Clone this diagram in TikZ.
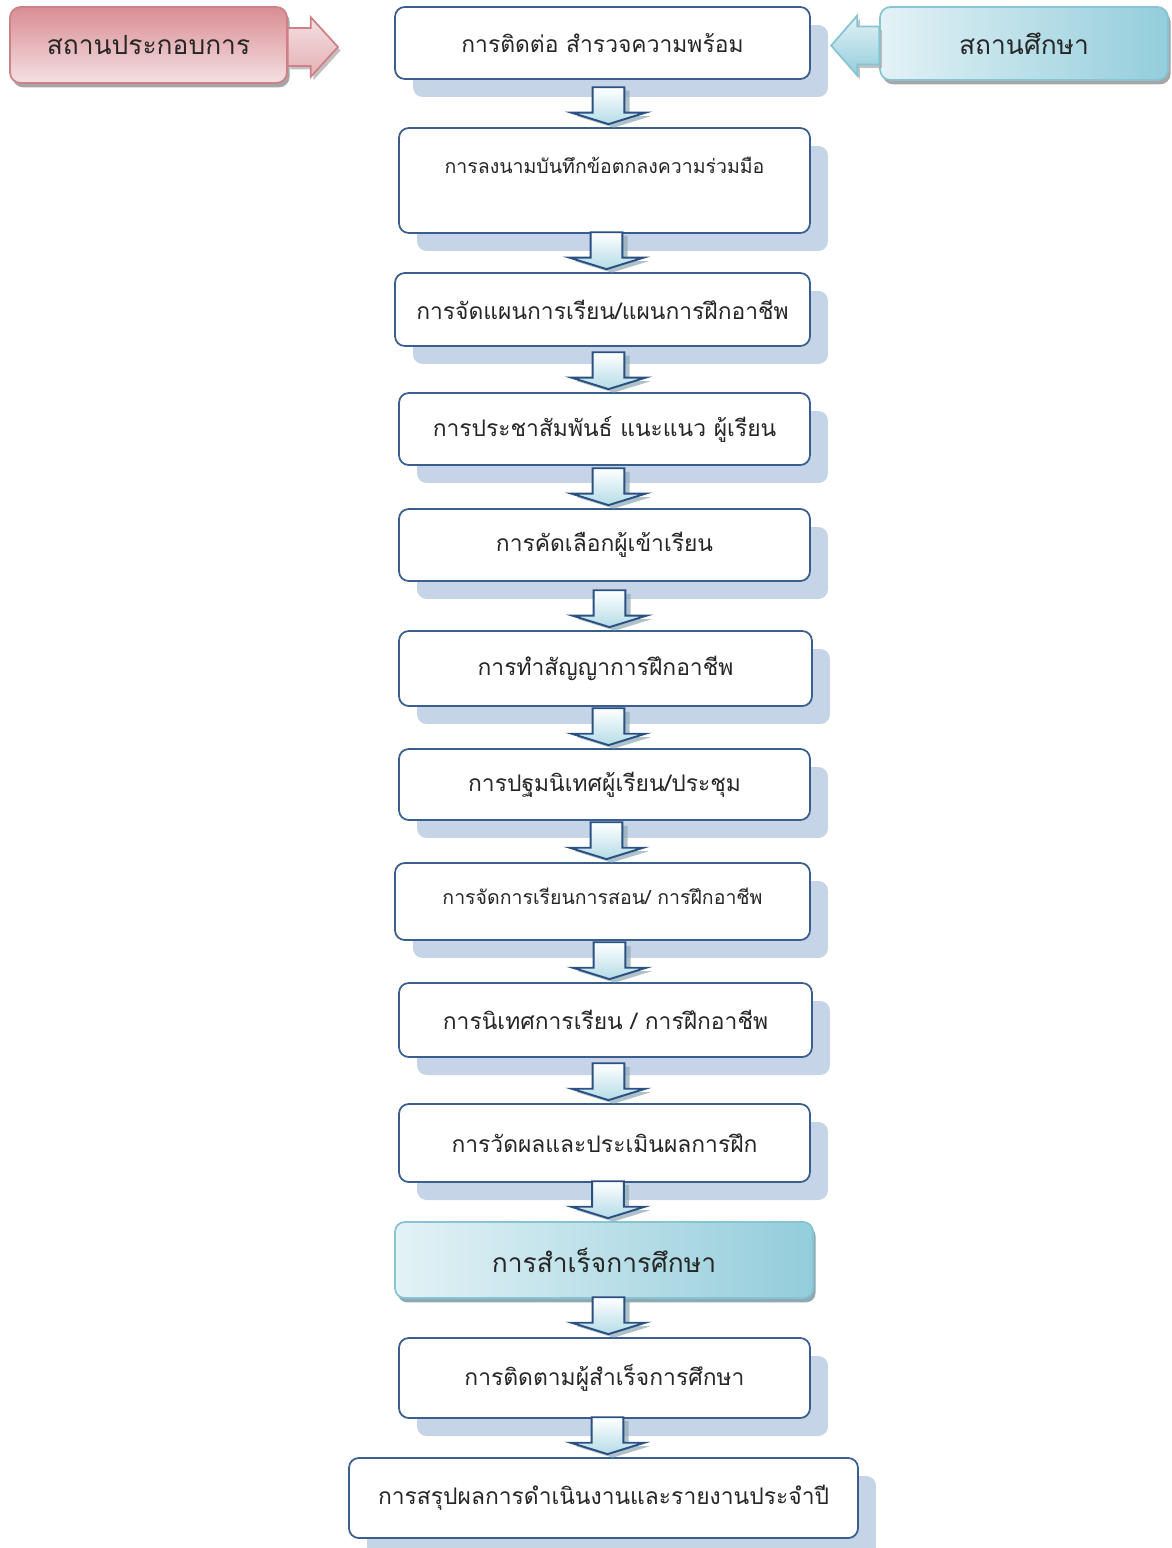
\documentclass[tikz,border=0pt]{standalone}
\usepackage{fontspec}
\newfontfamily\thaifont[Script=Thai]{Loma}
\usepackage{tikz}
\usetikzlibrary{positioning,calc,shadows}
\definecolor{DVEline}{HTML}{3A5F8F}
\definecolor{DVEshade}{HTML}{C6D4E7}
\definecolor{DVEnavy}{HTML}{2B5083}
\definecolor{DVEice}{HTML}{B5DCE7}
\definecolor{DVEteal}{HTML}{8FA8B2}
\definecolor{DVErose}{HTML}{D98D94}
\definecolor{DVEblush}{HTML}{F4E0E2}
\definecolor{DVEroseline}{HTML}{CE8087}
\definecolor{DVEcyan}{HTML}{93CDDB}
\definecolor{DVEmist}{HTML}{E3F2F6}
\definecolor{DVEcyanline}{HTML}{86C4D3}
\tikzset{
  boxbase/.style={rounded corners=5.5pt, line width=1pt, align=center, inner sep=2pt, text=black!85},
  flowbox/.style={boxbase, draw=DVEline, fill=white, font=\thaifont\fontsize{13}{16}\selectfont, drop shadow={shadow xshift=0.36cm, shadow yshift=-0.36cm, fill=DVEshade, opacity=1}},
  smallflow/.style={flowbox, font=\thaifont\fontsize{11.1}{13}\selectfont},
  goalbox/.style={boxbase, draw=DVEcyanline, left color=DVEmist, right color=DVEcyan, font=\thaifont\fontsize{15}{18}\selectfont, drop shadow={shadow xshift=1.5pt, shadow yshift=-2.5pt, fill=DVEteal, opacity=1}},
  partybox/.style={boxbase, rounded corners=6pt, font=\thaifont\fontsize{15}{18}\selectfont, drop shadow={shadow xshift=1.5pt, shadow yshift=-2.5pt, fill=black!35, opacity=1}},
  downarrow/.style={draw=DVEnavy, line width=1.1pt, line join=miter, top color=white, bottom color=DVEice, drop shadow={shadow xshift=3pt, shadow yshift=-2pt, fill=DVEteal, opacity=0.7}},
  sidearrow/.style={line width=1pt, line join=miter, drop shadow={shadow xshift=1.5pt, shadow yshift=-2pt, fill=black!30, opacity=0.8}}
}
\newcommand{\flowstep}[2]{\draw[downarrow] let \p2=($(#2.north)+(4,-3)$) in (\x2-9pt,\y2+21pt) -- (\x2+9pt,\y2+21pt) -- (\x2+9pt,\y2+6.5pt) -- (\x2+21pt,\y2+6.5pt) -- (\x2,\y2) -- (\x2-21pt,\y2+6.5pt) -- (\x2-9pt,\y2+6.5pt) -- cycle;}
\begin{document}
\begin{tikzpicture}[x=0.02cm, y=-0.02cm]
  \useasboundingbox (0,0) rectangle (1171,1548);
  \node[flowbox, minimum width=8.3cm, minimum height=1.44cm] (survey) at (602.5,43) {การติดต่อ สำรวจความพร้อม};
  \node[smallflow, minimum width=8.22cm, minimum height=2.1cm, text depth=0.6cm] (mou) at (604.5,180.5) {การลงนามบันทึกข้อตกลงความร่วมมือ};
  \node[flowbox, minimum width=8.3cm, minimum height=1.46cm] (plan) at (602.5,309.5) {การจัดแผนการเรียน/แผนการฝึกอาชีพ};
  \node[flowbox, minimum width=8.22cm, minimum height=1.44cm] (promo) at (604.5,429) {การประชาสัมพันธ์ แนะแนว ผู้เรียน};
  \node[flowbox, minimum width=8.22cm, minimum height=1.44cm] (select) at (604.5,545) {การคัดเลือกผู้เข้าเรียน};
  \node[flowbox, minimum width=8.26cm, minimum height=1.5cm] (contract) at (605.5,668.5) {การทำสัญญาการฝึกอาชีพ};
  \node[flowbox, minimum width=8.22cm, minimum height=1.42cm] (orient) at (604.5,784.5) {การปฐมนิเทศผู้เรียน/ประชุม};
  \node[smallflow, minimum width=8.3cm, minimum height=1.54cm, text depth=0.2cm] (teach) at (602.5,901.5) {การจัดการเรียนการสอน/ การฝึกอาชีพ};
  \node[flowbox, minimum width=8.26cm, minimum height=1.48cm] (supervise) at (605.5,1020) {การนิเทศการเรียน / การฝึกอาชีพ};
  \node[flowbox, minimum width=8.22cm, minimum height=1.56cm] (assess) at (604.5,1143) {การวัดผลและประเมินผลการฝึก};
  \node[goalbox, minimum width=8.36cm, minimum height=1.52cm] (graduate) at (604,1260) {การสำเร็จการศึกษา};
  \node[flowbox, minimum width=8.22cm, minimum height=1.6cm] (follow) at (604.5,1378) {การติดตามผู้สำเร็จการศึกษา};
  \node[flowbox, minimum width=10.18cm, minimum height=1.6cm] (report) at (603.5,1498) {การสรุปผลการดำเนินงานและรายงานประจำปี};
  \foreach \a/\b in {survey/mou, mou/plan, plan/promo, promo/select, select/contract, contract/orient, orient/teach, teach/supervise, supervise/assess, assess/graduate, graduate/follow, follow/report}
    \flowstep{\a}{\b};
  \node[partybox, draw=DVEroseline, top color=DVErose, bottom color=DVEblush, minimum width=5.54cm, minimum height=1.52cm] (firm) at (148.5,45) {สถานประกอบการ};
  \node[partybox, draw=DVEcyanline, left color=DVEmist, right color=DVEcyan, minimum width=5.76cm, minimum height=1.46cm] (school) at (1024,43.5) {สถานศึกษา};
  \draw[sidearrow, draw=DVEroseline, top color=DVEblush, bottom color=DVErose!70] let \p1=($(firm.east)+(0,2)$) in (\x1,\y1+10.8pt) -- (\x1+13pt,\y1+10.8pt) -- (\x1+13pt,\y1+17pt) -- (\x1+28.5pt,\y1) -- (\x1+13pt,\y1-17pt) -- (\x1+13pt,\y1-10.8pt) -- (\x1,\y1-10.8pt) -- cycle;
  \draw[sidearrow, draw=DVEcyanline, top color=DVEmist, bottom color=DVEcyan] let \p1=($(school.west)+(0,2)$) in (\x1,\y1+10.8pt) -- (\x1-12.5pt,\y1+10.8pt) -- (\x1-12.5pt,\y1+17pt) -- (\x1-27.3pt,\y1) -- (\x1-12.5pt,\y1-17pt) -- (\x1-12.5pt,\y1-10.8pt) -- (\x1,\y1-10.8pt) -- cycle;
\end{tikzpicture}
\end{document}
